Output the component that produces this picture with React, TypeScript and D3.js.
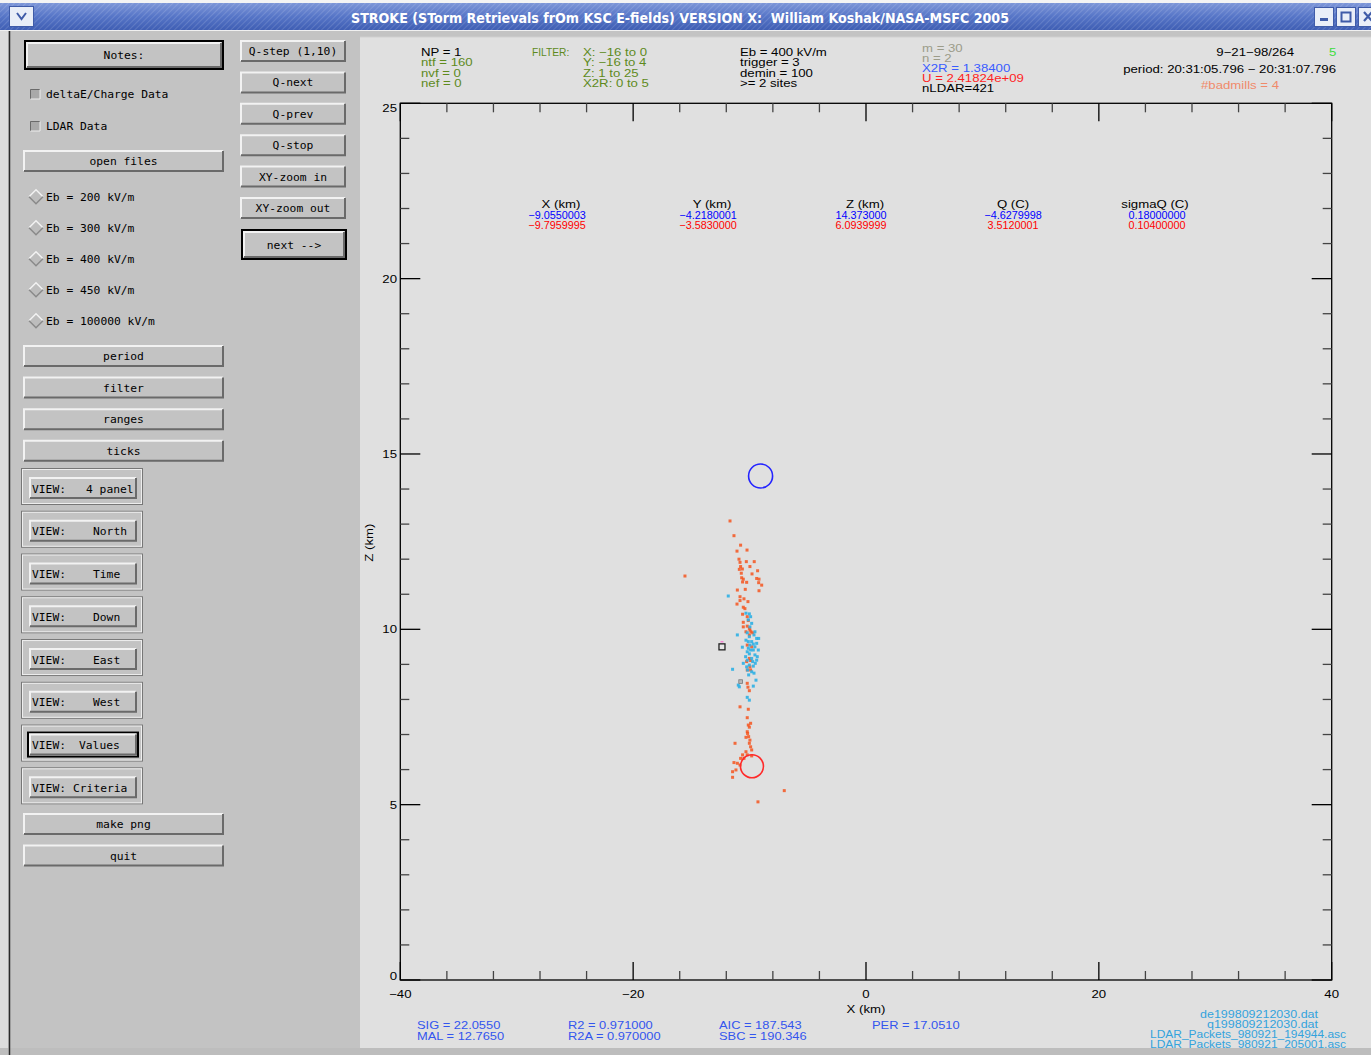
import React from "react";
import * as d3 from "d3";

const W = 1371;
const H = 1055;

// ---------- axis ticks ----------
const xMajor = [-40, -20, 0, 20, 40];
const zMajor = [0, 5, 10, 15, 20, 25];
const xMinor = [-36, -32, -28, -24, -16, -12, -8, -4, 4, 8, 12, 16, 24, 28, 32, 36];
const zMinor = [1, 2, 3, 4, 6, 7, 8, 9, 11, 12, 13, 14, 16, 17, 18, 19, 21, 22, 23, 24];

// ---------- header texts ----------
const titleText = "STROKE (STorm Retrievals frOm KSC E-fields) VERSION X:  William Koshak/NASA-MSFC 2005";
const npLabels = ["NP = 1", "ntf = 160", "nvf = 0", "nef = 0"];
const filterTitle = "FILTER:";
const filterLabels = ["X: \u221216 to 0", "Y: \u221216 to 4", "Z: 1 to 25", "X2R: 0 to 5"];
const ebLabels = ["Eb = 400 kV/m", "trigger = 3", "demin = 100", ">= 2 sites"];
const fitLabels = ["m = 30", "n = 2", "X2R = 1.38400", "U = 2.41824e+09", "nLDAR=421"];
const dateLabel = "9\u221221\u221298/264";
const countLabel = "5";
const periodLabel = "period: 20:31:05.796 \u2212 20:31:07.796";
const badmillsLabel = "#badmills = 4";

// ---------- retrieved charges ----------
const valueHeaders = ["X (km)", "Y (km)", "Z (km)", "Q (C)", "sigmaQ (C)"];
const charge1Values = [-9.0550003, -4.2180001, 14.373, -4.6279998, 0.18];
const charge1Text = ["\u22129.0550003", "\u22124.2180001", "14.373000", "\u22124.6279998", "0.18000000"];
const charge2Values = [-9.7959995, -3.583, 6.0939999, 3.5120001, 0.104];
const charge2Text = ["\u22129.7959995", "\u22123.5830000", "6.0939999", "3.5120001", "0.10400000"];

// ---------- stats / files ----------
const statCol1 = ["SIG = 22.0550", "MAL = 12.7650"];
const statCol2 = ["R2 = 0.971000", "R2A = 0.970000"];
const statCol3 = ["AIC = 187.543", "SBC = 190.346"];
const statCol4 = ["PER = 17.0510"];
const fileLabels = [
  "de199809212030.dat",
  "q199809212030.dat",
  "LDAR_Packets_980921_194944.asc",
  "LDAR_Packets_980921_205001.asc",
];

// ---------- LDAR sources (km) ----------
const ldarOrangeX = [-11.68, -11.34, -10.77, -11.08, -10.22, -10.91, -10.82, -10.28, -9.6, -10.77, -10.62, -9.97, -10.88, -9.31, -10.71, -9.79, -10.68, -10.54, -9.39, -9.19, -10.6, -10.25, -8.96, -9.22, -11.05, -10.37, -9.19, -10.82, -10.48, -10.82, -11.08, -15.55, -10.54, -10.4, -10.6, -10.2, -10.54, -10.11, -10.2, -9.97, -9.88, -10.02, -10.2, -9.82, -10.02, -10.25, -9.97, -10.2, -9.91, -10.2, -10.14, -10.02, -10.82, -10.11, -10.2, -10.11, -10.02, -10.2, -10.17, -10.08, -9.97, -10.02, -9.91, -9.82, -10.31, -10.2, -10.6, -10.77, -11.25, -11.05, -11.34, -10.82, -11.17, -11.46, -11.46, -10.48, -9.82, -7.02, -9.28, -10.02, -9.73, -10.31, -9.91, -10.31, -9.91, -10.54, -10.14];
const ldarOrangeZ = [13.09, 12.67, 12.4, 12.23, 12.26, 12.0, 11.91, 11.93, 11.93, 11.79, 11.72, 11.79, 11.71, 11.67, 11.6, 11.58, 11.47, 11.43, 11.45, 11.43, 11.35, 11.34, 11.26, 11.33, 11.12, 11.14, 11.1, 10.93, 10.87, 10.82, 10.72, 11.52, 10.63, 10.59, 10.43, 10.36, 10.2, 10.25, 10.09, 9.98, 9.93, 9.84, 9.55, 9.5, 9.17, 9.08, 8.93, 8.84, 8.84, 8.46, 8.35, 8.25, 7.79, 7.72, 7.48, 7.27, 7.21, 7.08, 7.03, 6.94, 6.84, 6.75, 6.65, 6.56, 6.51, 6.42, 6.42, 6.32, 6.75, 6.18, 6.2, 6.13, 5.99, 5.94, 5.78, 6.32, 6.39, 5.4, 5.08, 10.03, 9.9, 9.93, 9.11, 6.92, 7.32, 10.07, 10.79];
const ldarCyanX = [-11.83, -10.31, -10.02, -9.91, -10.11, -9.82, -9.54, -9.62, -10.2, -10.02, -9.39, -9.22, -10.11, -9.82, -9.97, -9.68, -10.11, -10.62, -10.2, -9.68, -9.39, -9.25, -10.02, -9.54, -10.34, -9.82, -9.34, -10.2, -9.73, -9.51, -10.54, -10.02, -9.68, -10.25, -9.82, -9.62, -10.08, -11.46, -11.05, -9.45, -10.77, -10.97, -10.88, -9.68, -10.2, -10.02, -9.97, -9.54, -10.31, -9.39, -9.91, -10.17];
const ldarCyanZ = [10.95, 10.46, 10.44, 10.36, 10.27, 10.17, 9.93, 9.84, 9.9, 9.79, 9.74, 9.74, 9.65, 9.65, 9.55, 9.58, 9.46, 9.49, 9.36, 9.41, 9.6, 9.41, 9.3, 9.27, 9.22, 9.17, 9.22, 9.12, 9.08, 9.03, 9.03, 8.98, 8.95, 8.93, 8.79, 8.75, 8.7, 8.86, 9.84, 8.55, 8.51, 8.41, 8.36, 8.38, 8.06, 7.98, 10.07, 9.5, 9.69, 9.12, 9.41, 8.84];
const markerX = [-12.37];
const markerZ = [9.5];
const grayMarkX = [-10.77];
const grayMarkZ = [8.51];

// ---------- GUI ----------
const checkLabels = ["deltaE/Charge Data", "LDAR Data"];
const ebOptions = ["Eb = 200 kV/m", "Eb = 300 kV/m", "Eb = 400 kV/m", "Eb = 450 kV/m", "Eb = 100000 kV/m"];
const midButtons = ["period", "filter", "ranges", "ticks"];
const viewLabels = ["4 panel", "North", "Time", "Down", "East", "West", "Values", "Criteria"];
const bottomButtons = ["make png", "quit"];
const rightButtons = ["Q-step (1,10)", "Q-next", "Q-prev", "Q-stop", "XY-zoom in", "XY-zoom out"];

const GUI_FONT = "'DejaVu Sans Mono', 'Liberation Mono', monospace";
const PLOT_FONT = "'Liberation Sans', Arial, sans-serif";
const PANEL = "#c3c3c3";

function PT({ x, y, children, fill = "#000", size = 11, anchor = "start", sx = 1.2 }: any) {
  return (
    <text transform={`translate(${x},${y}) scale(${sx},1)`} x={0} y={0} textAnchor={anchor}
      fontFamily={PLOT_FONT} fontSize={size} fill={fill} style={{ whiteSpace: "pre" }}>
      {children}
    </text>
  );
}

function RaisedButton({ x, y, w, h, label, framed }: any) {
  return (
    <g>
      {framed && (
        <rect x={x - 1} y={y - 1} width={w + 2} height={h + 2} fill="none" stroke="#000" strokeWidth={2} />
      )}
      <rect x={x} y={y} width={w} height={h} fill={PANEL} />
      <path d={`M${x + 1},${y + h - 1} L${x + 1},${y + 1} L${x + w - 1},${y + 1}`} stroke="#f2f2f2" strokeWidth={2} fill="none" />
      <path d={`M${x + 1},${y + h - 1} L${x + w - 1},${y + h - 1} L${x + w - 1},${y + 1}`} stroke="#6a6a6a" strokeWidth={2} fill="none" />
      {label && (
        <text x={x + w / 2} y={y + h / 2 + 4} textAnchor="middle" fontFamily={GUI_FONT} fontSize={11.3} fill="#000" style={{ whiteSpace: "pre" }}>
          {label}
        </text>
      )}
    </g>
  );
}

export default function App() {
  const x = d3.scaleLinear().domain([-40, 40]).range([400.3, 1331.7]);
  const z = d3.scaleLinear().domain([0, 25]).range([980, 103.3]);
  const [x0, x1] = x.range();
  const [zb, zt] = z.range();

  const orange = d3.range(Math.min(ldarOrangeX.length, ldarOrangeZ.length)).map((i) => [ldarOrangeX[i], ldarOrangeZ[i]]);
  const cyan = d3.range(Math.min(ldarCyanX.length, ldarCyanZ.length)).map((i) => [ldarCyanX[i], ldarCyanZ[i]]);

  const valueCentersHeader = [561, 712, 865, 1013, 1155];
  const valueCenters = [557, 708, 861, 1013, 1157];
  const headerBase = [56, 66.3, 76.6, 87];
  const fitBase = [51.5, 61.5, 71.5, 81.5, 92];

  const viewTop = (i: number) => 468 + i * 42.76;
  const viewLabelX = [86, 93, 93, 93, 93, 93, 79, 73];
  const PS = 3;

  return (
    <div style={{ position: "absolute", left: 0, top: 0, width: W, height: H }}>
      <svg width={W} height={H} viewBox={`0 0 ${W} ${H}`} style={{ display: "block" }}>
        <defs>
          <linearGradient id="tb" x1="0" y1="0" x2="0" y2="1">
            <stop offset="0" stopColor="#7d96d8" />
            <stop offset="0.5" stopColor="#5675c7" />
            <stop offset="1" stopColor="#3f5eb3" />
          </linearGradient>
          <pattern id="hatch" width="4" height="4" patternUnits="userSpaceOnUse" patternTransform="rotate(45)">
            <line x1="0" y1="0" x2="0" y2="4" stroke="#ffffff" strokeOpacity="0.22" strokeWidth="1.2" />
          </pattern>
        </defs>

        {/* window background */}
        <rect x={0} y={0} width={W} height={H} fill={PANEL} />

        {/* title bar */}
        <rect x={0} y={0} width={W} height={4} fill="#f4f4f4" />
        <rect x={0} y={3} width={W} height={27} fill="url(#tb)" />
        <rect x={0} y={3} width={W} height={27} fill="url(#hatch)" />
        <line x1={0} x2={W} y1={30.5} y2={30.5} stroke="#f0f0f0" />
        <text x={680} y={23} textAnchor="middle" fill="#fff" fontFamily="'DejaVu Sans Condensed', 'DejaVu Sans', sans-serif" fontWeight="bold" fontSize={14} textLength={658} lengthAdjust="spacingAndGlyphs" style={{ whiteSpace: "pre" }}>
          {titleText}
        </text>
        <rect x={9.5} y={6.5} width={24} height={20} fill="#e9eef8" stroke="#3f5ba8" />
        <path d="M17,13 L21.5,19 L26,13" fill="none" stroke="#3f5ba8" strokeWidth={2} />
        {[1314, 1336, 1358].map((bx, i) => (
          <g key={bx}>
            <rect x={bx + 0.5} y={7.5} width={19} height={19} fill="#e9eef8" stroke="#3f5ba8" />
            {i === 0 && <rect x={bx + 6} y={18} width={8} height={3} fill="#3f5ba8" />}
            {i === 1 && <rect x={bx + 5.5} y={12.5} width={9} height={9} fill="none" stroke="#3f5ba8" strokeWidth={2} />}
            {i === 2 && <path d={`M${bx + 6},${12} L${bx + 14},${21} M${bx + 14},${12} L${bx + 6},${21}`} stroke="#3f5ba8" strokeWidth={2.2} />}
          </g>
        ))}

        {/* left window edge */}
        <rect x={0} y={31} width={8} height={H - 31} fill="#dcdcdc" />
        <line x1={9.5} x2={9.5} y1={31} y2={H} stroke="#2a2a2a" strokeWidth={1.5} />

        {/* left GUI column */}
        <RaisedButton x={26} y={42} w={196} h={26} label="Notes:" framed />
        {checkLabels.map((lab, i) => {
          const cy = 94 + i * 32;
          return (
            <g key={lab}>
              <rect x={30} y={cy - 5} width={10} height={10} fill="#a9a9a9" />
              <path d={`M30.5,${cy + 5} L30.5,${cy - 4.5} L40,${cy - 4.5}`} stroke="#6a6a6a" fill="none" />
              <path d={`M30.5,${cy + 5} L40,${cy + 5} L40,${cy - 4.5}`} stroke="#ededed" fill="none" />
              <text x={46} y={cy + 4} fontFamily={GUI_FONT} fontSize={11.3} fill="#000">{lab}</text>
            </g>
          );
        })}
        <RaisedButton x={23} y={150} w={201} h={22} label="open files" />
        {ebOptions.map((lab, i) => {
          const cy = 196.7 + i * 31;
          return (
            <g key={lab}>
              <polygon points={`36,${cy - 7} 43,${cy} 36,${cy + 7} 29,${cy}`} fill="#bdbdbd" />
              <path d={`M29,${cy} L36,${cy - 7} L43,${cy}`} stroke="#f2f2f2" strokeWidth={1.5} fill="none" />
              <path d={`M29,${cy} L36,${cy + 7} L43,${cy}`} stroke="#8a8a8a" strokeWidth={1.5} fill="none" />
              <text x={46} y={cy + 4} fontFamily={GUI_FONT} fontSize={11.3} fill="#000">{lab}</text>
            </g>
          );
        })}
        {midButtons.map((lab, i) => (
          <RaisedButton key={lab} x={23} y={345 + i * 31.6} w={201} h={22} label={lab} />
        ))}
        {viewLabels.map((lab, i) => {
          const t = viewTop(i);
          const active = lab === "Values";
          return (
            <g key={lab}>
              <rect x={21.5} y={t + 0.5} width={121} height={36} fill="none" stroke="#777" />
              <rect x={22.5} y={t + 1.5} width={119} height={34} fill="none" stroke="#eeeeee" />
              <RaisedButton x={29} y={t + 9} w={108} h={22} framed={active} />
              <text x={32} y={t + 24.5} fontFamily={GUI_FONT} fontSize={11.3} fill="#000">VIEW:</text>
              <text x={viewLabelX[i]} y={t + 24.5} fontFamily={GUI_FONT} fontSize={11.3} fill="#000">{lab}</text>
            </g>
          );
        })}
        {bottomButtons.map((lab, i) => (
          <RaisedButton key={lab} x={23} y={813 + i * 31.5} w={201} h={22} label={lab} />
        ))}

        {/* right GUI column */}
        {rightButtons.map((lab, i) => (
          <RaisedButton key={lab} x={240} y={40 + i * 31.4} w={106} h={22} label={lab} />
        ))}
        <RaisedButton x={243} y={231} w={102} h={27} label="next -->" framed />

        {/* plot area background */}
        <rect x={360} y={37} width={W - 360} height={1011} fill="#e0e0e0" />
        <line x1={360} x2={W} y1={37} y2={37} stroke="#cfcfcf" />

        {/* header info */}
        {npLabels.map((t, i) => (
          <PT key={t} x={421} y={headerBase[i]} fill={i === 0 ? "#000" : "#5e8a1c"}>{t}</PT>
        ))}
        <PT x={532} y={headerBase[0]} fill="#5e8a1c" sx={0.93}>{filterTitle}</PT>
        {filterLabels.map((t, i) => (
          <PT key={t} x={583} y={headerBase[i]} fill="#5e8a1c">{t}</PT>
        ))}
        {ebLabels.map((t, i) => (
          <PT key={t} x={740} y={headerBase[i]} fill="#000">{t}</PT>
        ))}
        {fitLabels.map((t, i) => (
          <PT key={t} x={922} y={fitBase[i]}
            fill={i < 2 ? "#9c9c8a" : i === 2 ? "#3a5cff" : i === 3 ? "#ff1f1f" : "#000"}>{t}</PT>
        ))}
        <PT x={1294} y={56} anchor="end">{dateLabel}</PT>
        <PT x={1329} y={56} fill="#3ddc3d">{countLabel}</PT>
        <PT x={1336} y={72.5} anchor="end">{periodLabel}</PT>
        <PT x={1240} y={89} anchor="middle" fill="#f08a6a">{badmillsLabel}</PT>

        {/* axes frame */}
        <rect x={x0} y={zt} width={x1 - x0} height={zb - zt} fill="none" stroke="#000" strokeWidth={1.3} />
        {zMajor.map((v) => (
          <g key={"zM" + v}>
            <line x1={x0} x2={x0 + 20} y1={z(v)} y2={z(v)} stroke="#000" strokeWidth={1.3} />
            <line x1={x1} x2={x1 - 20} y1={z(v)} y2={z(v)} stroke="#000" strokeWidth={1.3} />
            <PT x={397} y={Math.min(Math.max(z(v) + 4, zt + 9), zb)} anchor="end">{String(v)}</PT>
          </g>
        ))}
        {zMinor.map((v) => (
          <g key={"zm" + v}>
            <line x1={x0} x2={x0 + 9} y1={z(v)} y2={z(v)} stroke="#444" strokeWidth={1.3} />
            <line x1={x1} x2={x1 - 9} y1={z(v)} y2={z(v)} stroke="#444" strokeWidth={1.3} />
          </g>
        ))}
        {xMajor.map((v) => (
          <g key={"xM" + v}>
            <line x1={x(v)} x2={x(v)} y1={zb} y2={zb - 18} stroke="#000" strokeWidth={1.3} />
            <line x1={x(v)} x2={x(v)} y1={zt} y2={zt + 18} stroke="#000" strokeWidth={1.3} />
            <PT x={x(v)} y={998} anchor="middle">{v < 0 ? "\u2212" + Math.abs(v) : String(v)}</PT>
          </g>
        ))}
        {xMinor.map((v) => (
          <g key={"xm" + v}>
            <line x1={x(v)} x2={x(v)} y1={zb} y2={zb - 9} stroke="#444" strokeWidth={1.3} />
            <line x1={x(v)} x2={x(v)} y1={zt} y2={zt + 9} stroke="#444" strokeWidth={1.3} />
          </g>
        ))}
        <PT x={x(0)} y={1013} anchor="middle">X (km)</PT>
        <text transform={`translate(373,${z(12.5) + 1}) rotate(-90) scale(1.2,1)`} textAnchor="middle" fontFamily={PLOT_FONT} fontSize={11} fill="#000">Z (km)</text>

        {/* charge values table */}
        {valueHeaders.map((h, i) => (
          <g key={h}>
            <PT x={valueCentersHeader[i]} y={208} anchor="middle">{h}</PT>
            <PT x={valueCenters[i]} y={218.5} anchor="middle" size={10.3} sx={1.05} fill="#0000ff">{charge1Text[i]}</PT>
            <PT x={valueCenters[i]} y={228.5} anchor="middle" size={10.3} sx={1.05} fill="#ff0000">{charge2Text[i]}</PT>
          </g>
        ))}

        {/* LDAR points */}
        {orange.map(([px, pz], i) => (
          <rect key={"o" + i} x={x(px) - PS / 2} y={z(pz) - PS / 2} width={PS} height={PS} fill="#f5551f" fillOpacity={0.85} />
        ))}
        {cyan.map(([px, pz], i) => (
          <rect key={"c" + i} x={x(px) - PS / 2} y={z(pz) - PS / 2} width={PS} height={PS} fill="#2fb0e4" fillOpacity={0.9} />
        ))}
        {grayMarkX.map((v, i) => (
          <rect key={"g" + i} x={x(v) - 1.8} y={z(grayMarkZ[i]) - 1.8} width={3.6} height={3.6} fill="#b9b9b9" stroke="#777" strokeWidth={0.8} />
        ))}
        {markerX.map((v, i) => (
          <g key={"m" + i}>
            <rect x={x(v) - 3} y={z(markerZ[i]) - 3} width={6} height={6} fill="#e6e6e6" stroke="#222" strokeWidth={1.3} />
            <line x1={x(v) - 1.5} x2={x(v) + 1.5} y1={z(markerZ[i]) - 5} y2={z(markerZ[i]) - 5} stroke="#ff55cc" strokeWidth={1} />
          </g>
        ))}

        {/* retrieved charge circles */}
        <circle cx={x(charge1Values[0])} cy={z(charge1Values[2])} r={12} fill="none" stroke="#2424ff" strokeWidth={1.6} />
        <circle cx={x(charge2Values[0])} cy={z(charge2Values[2])} r={11.5} fill="none" stroke="#ff2a2a" strokeWidth={1.6} />

        {/* statistics */}
        {[statCol1, statCol2, statCol3, statCol4].map((col, ci) =>
          col.map((t, j) => (
            <PT key={t} x={[417, 568, 719, 872][ci]} y={1028.5 + j * 11} fill="#3355ee" sx={1.17}>{t}</PT>
          ))
        )}
        {fileLabels.map((t, i) => (
          <text key={t} x={[1200, 1207, 1150, 1150][i]} y={1018 + i * 10} fontFamily={PLOT_FONT} fontSize={11} fill="#33a3dd"
            textLength={[118, 111, 196, 196][i]} lengthAdjust="spacingAndGlyphs">{t}</text>
        ))}

        {/* bottom bar */}
        <rect x={0} y={1048} width={W} height={H - 1048} fill="#bdbdbd" />
        <line x1={9.5} x2={9.5} y1={1048} y2={H} stroke="#2a2a2a" strokeWidth={1.5} />
      </svg>
    </div>
  );
}
